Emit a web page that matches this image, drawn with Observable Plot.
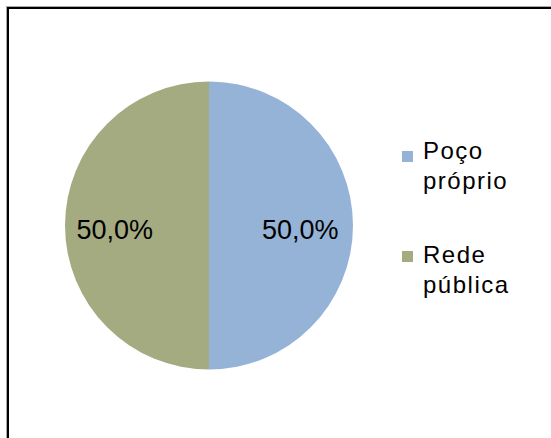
<!DOCTYPE html>
<html><head><meta charset="utf-8">
<script src="https://cdn.jsdelivr.net/npm/d3@7"></script>
<script src="https://cdn.jsdelivr.net/npm/@observablehq/plot@0.6"></script>
<style>
html,body{margin:0;padding:0;background:#fff;overflow:hidden;width:551px;height:438px}
#frame{position:absolute;left:7px;top:7px;width:700px;height:600px;border-top:2px solid #000;border-left:2px solid #000;box-shadow:-1px -1px 0 #aaa}
#chart{position:absolute;left:0;top:0}
.lg-sq{position:absolute;left:402px;width:11px;height:11px}
.lg-tx{position:absolute;left:423px;font-family:Arial,"Liberation Sans",sans-serif;font-size:24px;letter-spacing:1.5px;line-height:30.5px;color:#000;white-space:nowrap}
</style></head><body>
<div id="frame"></div>
<div id="chart"></div>
<script>
const categories = ["Poço próprio", "Rede pública"];
const values = [50.0, 50.0];
const labels = ["50,0%", "50,0%"];
const colors = ["#95B3D7", "#A5AB81"];

const data = categories.map((c, i) => ({category: c, value: values[i], label: labels[i]}));
const arcs = d3.pie().sort(null).value(d => d.value)(data);
const labelR = 0.644;
const labelData = arcs.map(a => {
  const m = (a.startAngle + a.endAngle) / 2;
  return {x: labelR * Math.sin(m), y: labelR * Math.cos(m), label: a.data.label};
});

function pieMark(index, scales, vals, dimensions, context) {
  const cx = scales.x(0), cy = scales.y(0);
  const r = scales.x(1) - scales.x(0);
  const color = scales.color ?? d3.scaleOrdinal(categories, colors);
  const arc = d3.arc().innerRadius(0).outerRadius(r);
  const g = d3.create("svg:g").attr("transform", `translate(${cx},${cy})`);
  g.selectAll("path").data(arcs).join("path")
    .attr("d", arc)
    .attr("fill", d => color(d.data.category));
  return g.node();
}

const plot = Plot.plot({
  width: 551,
  height: 438,
  margin: 0,
  style: {background: "transparent"},
  x: {domain: [-1, 1], range: [65, 353], axis: null},
  y: {domain: [-1, 1], range: [369.5, 81.5], axis: null},
  color: {domain: categories, range: colors},
  marks: [
    pieMark,
    Plot.text(labelData, {x: "x", y: "y", text: "label", fill: "#000", fontSize: 27,
      fontFamily: "Arial, 'Liberation Sans', sans-serif", textAnchor: "middle", lineAnchor: "middle", dx: -2, dy: 4})
  ]
});
document.getElementById("chart").appendChild(plot);

// legend
const sqTops = [151, 251];
const txTops = [135.5, 239.5];
categories.forEach((c, i) => {
  const sq = document.createElement("div");
  sq.className = "lg-sq";
  sq.style.top = sqTops[i] + "px";
  sq.style.background = colors[i];
  document.body.appendChild(sq);
  const tx = document.createElement("div");
  tx.className = "lg-tx";
  tx.style.top = txTops[i] + "px";
  tx.innerHTML = c.split(" ").join("<br>");
  document.body.appendChild(tx);
});
</script>
</body></html>
